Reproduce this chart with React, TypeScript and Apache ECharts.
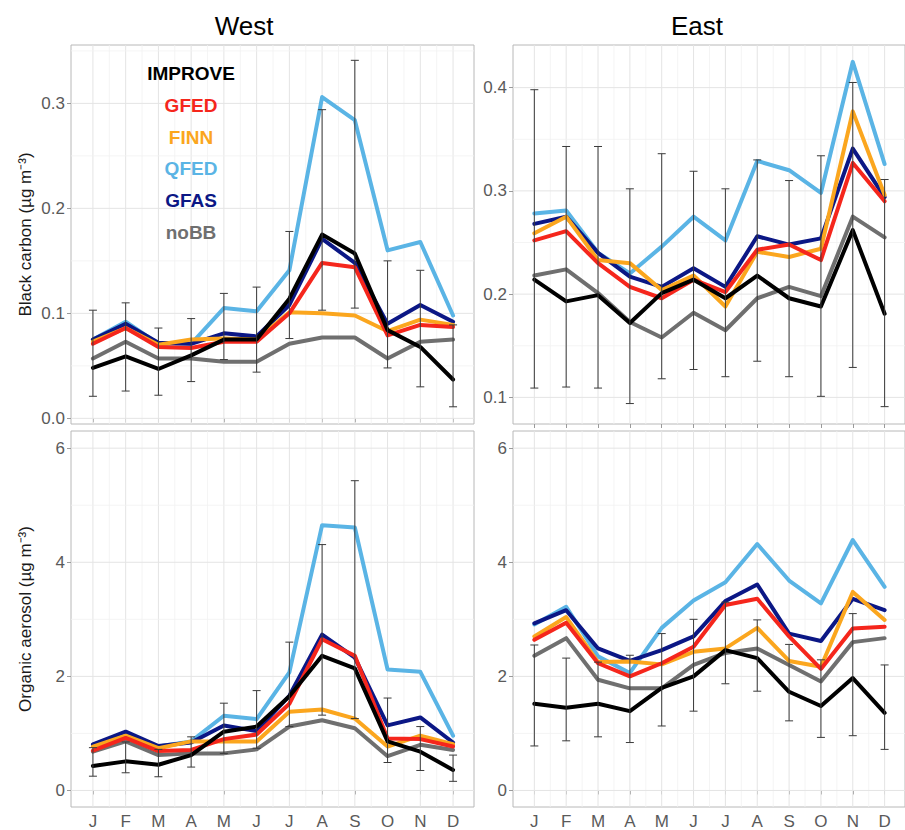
import React, { useEffect, useRef } from "react";
import * as echarts from "echarts";

// ---------- categories / labels ----------
const months = ["J", "F", "M", "A", "M", "J", "J", "A", "S", "O", "N", "D"];
const seriesNames = ["IMPROVE", "GFED", "FINN", "QFED", "GFAS", "noBB"];
const seriesColors = ["#000000", "#F5261C", "#FBA61E", "#5AB4E5", "#0B1785", "#6F6F6F"];
const panelTitles = ["West", "East"];
const bcTicks = [0.0, 0.1, 0.2, 0.3];
const bcEastTicks = [0.1, 0.2, 0.3, 0.4];
const oaTicks = [0, 2, 4, 6];

// ---------- Black carbon, West ----------
const bcWestImprove = [0.048, 0.059, 0.047, 0.060, 0.075, 0.075, 0.114, 0.175, 0.157, 0.084, 0.068, 0.037];
const bcWestLow = [0.021, 0.026, 0.022, 0.035, 0.056, 0.044, 0.076, 0.103, 0.105, 0.048, 0.030, 0.011];
const bcWestHigh = [0.103, 0.110, 0.086, 0.095, 0.119, 0.125, 0.178, 0.294, 0.341, 0.150, 0.141, 0.089];
const bcWestGFED = [0.071, 0.086, 0.068, 0.067, 0.073, 0.073, 0.100, 0.148, 0.144, 0.079, 0.089, 0.087];
const bcWestFINN = [0.073, 0.086, 0.070, 0.075, 0.076, 0.075, 0.101, 0.100, 0.098, 0.083, 0.094, 0.089];
const bcWestQFED = [0.075, 0.092, 0.071, 0.071, 0.105, 0.102, 0.141, 0.306, 0.284, 0.160, 0.168, 0.098];
const bcWestGFAS = [0.075, 0.090, 0.072, 0.071, 0.081, 0.078, 0.108, 0.171, 0.148, 0.090, 0.108, 0.092];
const bcWestNoBB = [0.057, 0.073, 0.057, 0.057, 0.054, 0.054, 0.071, 0.077, 0.077, 0.057, 0.073, 0.075];

// ---------- Black carbon, East ----------
const bcEastImprove = [0.214, 0.193, 0.199, 0.172, 0.201, 0.214, 0.196, 0.218, 0.196, 0.188, 0.262, 0.181];
const bcEastLow = [0.109, 0.110, 0.109, 0.094, 0.118, 0.127, 0.120, 0.135, 0.120, 0.101, 0.129, 0.091];
const bcEastHigh = [0.398, 0.343, 0.343, 0.302, 0.336, 0.319, 0.302, 0.330, 0.310, 0.334, 0.405, 0.311];
const bcEastGFED = [0.252, 0.261, 0.230, 0.207, 0.196, 0.214, 0.202, 0.243, 0.248, 0.233, 0.327, 0.290];
const bcEastFINN = [0.259, 0.275, 0.233, 0.230, 0.204, 0.218, 0.188, 0.241, 0.236, 0.244, 0.377, 0.296];
const bcEastQFED = [0.278, 0.281, 0.240, 0.220, 0.246, 0.275, 0.252, 0.329, 0.320, 0.298, 0.425, 0.326];
const bcEastGFAS = [0.268, 0.275, 0.240, 0.217, 0.207, 0.225, 0.207, 0.256, 0.248, 0.254, 0.341, 0.294];
const bcEastNoBB = [0.218, 0.224, 0.201, 0.173, 0.158, 0.182, 0.165, 0.196, 0.207, 0.198, 0.275, 0.255];

// ---------- Organic aerosol, West ----------
const oaWestImprove = [0.43, 0.51, 0.45, 0.62, 1.03, 1.12, 1.65, 2.36, 2.14, 0.86, 0.68, 0.36];
const oaWestLow = [0.25, 0.31, 0.24, 0.41, 0.65, 0.74, 1.12, 1.32, 1.26, 0.49, 0.35, 0.16];
const oaWestHigh = [0.75, 0.85, 0.72, 0.94, 1.53, 1.75, 2.60, 4.31, 5.43, 1.62, 1.12, 0.62];
const oaWestGFED = [0.70, 0.92, 0.69, 0.71, 0.90, 0.98, 1.52, 2.65, 2.36, 0.91, 0.90, 0.77];
const oaWestFINN = [0.77, 0.96, 0.74, 0.86, 0.86, 0.86, 1.38, 1.42, 1.26, 0.77, 0.96, 0.81];
const oaWestQFED = [0.80, 1.00, 0.77, 0.86, 1.31, 1.25, 2.07, 4.65, 4.61, 2.12, 2.08, 0.96];
const oaWestGFAS = [0.81, 1.03, 0.78, 0.84, 1.14, 1.04, 1.66, 2.73, 2.33, 1.14, 1.28, 0.84];
const oaWestNoBB = [0.68, 0.86, 0.62, 0.65, 0.65, 0.72, 1.12, 1.23, 1.09, 0.60, 0.80, 0.71];

// ---------- Organic aerosol, East ----------
const oaEastImprove = [1.52, 1.45, 1.52, 1.39, 1.80, 2.00, 2.46, 2.32, 1.73, 1.48, 1.97, 1.36];
const oaEastLow = [0.78, 0.87, 0.94, 0.84, 1.13, 1.39, 1.87, 1.74, 1.22, 0.93, 0.96, 0.72];
const oaEastHigh = [2.55, 2.32, 2.25, 2.37, 2.75, 3.00, 3.30, 2.99, 2.56, 2.29, 3.10, 2.20];
const oaEastGFED = [2.64, 2.94, 2.23, 2.00, 2.23, 2.52, 3.25, 3.36, 2.70, 2.13, 2.84, 2.87];
const oaEastFINN = [2.70, 3.04, 2.25, 2.26, 2.21, 2.43, 2.49, 2.85, 2.27, 2.17, 3.48, 2.99];
const oaEastQFED = [2.91, 3.22, 2.35, 2.06, 2.85, 3.33, 3.65, 4.32, 3.68, 3.28, 4.39, 3.57];
const oaEastGFAS = [2.93, 3.16, 2.49, 2.27, 2.46, 2.70, 3.32, 3.61, 2.75, 2.62, 3.36, 3.16];
const oaEastNoBB = [2.36, 2.67, 1.94, 1.79, 1.79, 2.20, 2.41, 2.49, 2.20, 1.91, 2.60, 2.67];

const FONT = "Liberation Sans, Arial, Helvetica, sans-serif";

type Panel = {
  left: number;
  top: number;
  yMin: number;
  yMax: number;
  yTicks: number[];
  yMinor: number[];
  decimals: number;
  bottomRow: boolean;
  yName: string;
  lines: number[][]; // IMPROVE, GFED, FINN, QFED, GFAS, noBB
  low: number[];
  high: number[];
};

const panels: Panel[] = [
  {
    left: 71, top: 45, yMin: -0.0054, yMax: 0.3556, yTicks: bcTicks, yMinor: [0.05, 0.15, 0.25, 0.35],
    decimals: 1, bottomRow: false, yName: "Black carbon (µg m⁻³)",
    lines: [bcWestImprove, bcWestGFED, bcWestFINN, bcWestQFED, bcWestGFAS, bcWestNoBB],
    low: bcWestLow, high: bcWestHigh,
  },
  {
    left: 513, top: 45, yMin: 0.0742, yMax: 0.4413, yTicks: bcEastTicks, yMinor: [0.15, 0.25, 0.35],
    decimals: 1, bottomRow: false, yName: "",
    lines: [bcEastImprove, bcEastGFED, bcEastFINN, bcEastQFED, bcEastGFAS, bcEastNoBB],
    low: bcEastLow, high: bcEastHigh,
  },
  {
    left: 71, top: 431, yMin: -0.29, yMax: 6.301, yTicks: oaTicks, yMinor: [1, 3, 5],
    decimals: 0, bottomRow: true, yName: "Organic aerosol (µg m⁻³)",
    lines: [oaWestImprove, oaWestGFED, oaWestFINN, oaWestQFED, oaWestGFAS, oaWestNoBB],
    low: oaWestLow, high: oaWestHigh,
  },
  {
    left: 513, top: 431, yMin: -0.29, yMax: 6.301, yTicks: oaTicks, yMinor: [1, 3, 5],
    decimals: 0, bottomRow: true, yName: "",
    lines: [oaEastImprove, oaEastGFED, oaEastFINN, oaEastQFED, oaEastGFAS, oaEastNoBB],
    low: oaEastLow, high: oaEastHigh,
  },
];

const PANEL_W = 403;
const PANEL_H = 379;
const X_MIN = 0.33;
const X_MAX = 12.64;
const monthPos = months.map((_, i) => i + 1);
const monthMinor = months.slice(1).map((_, i) => i + 1.5);
// drawing order: noBB, QFED, GFAS, FINN, GFED, IMPROVE
const drawOrder = [5, 3, 4, 2, 1, 0];

function buildOption() {
  const grid: any[] = [];
  const xAxis: any[] = [];
  const yAxis: any[] = [];
  const series: any[] = [];

  panels.forEach((p, pi) => {
    grid.push({
      left: p.left, top: p.top, width: PANEL_W, height: PANEL_H,
      show: true, borderColor: "#B8B8B8", borderWidth: 1, backgroundColor: "#FFFFFF",
    });
    xAxis.push({
      type: "value", gridIndex: pi, min: X_MIN, max: X_MAX,
      axisLine: { show: false },
      axisTick: { show: true, customValues: monthPos, length: 4, lineStyle: { color: "#9A9A9A" } },
      axisLabel: {
        show: p.bottomRow, customValues: monthPos, margin: 6,
        fontSize: 17, fontFamily: FONT, color: "#5A5A5A",
        formatter: (v: number) => months[Math.round(v) - 1] ?? "",
      },
      splitLine: { show: false },
    });
    yAxis.push({
      type: "value", gridIndex: pi, min: p.yMin, max: p.yMax,
      axisLine: { show: false },
      axisTick: { show: true, customValues: p.yTicks, length: 4, lineStyle: { color: "#9A9A9A" } },
      axisLabel: {
        customValues: p.yTicks, margin: 6, fontSize: 17, fontFamily: FONT, color: "#5A5A5A",
        formatter: (v: number) => v.toFixed(p.decimals),
      },
      splitLine: { show: false },
      name: p.yName,
      nameLocation: "middle",
      nameGap: 37,
      nameTextStyle: { fontSize: 17, fontFamily: FONT, color: "#1A1A1A" },
    });

    // grid lines (major + minor) via the axis scales
    const gridData: number[][] = [];
    monthPos.forEach((v) => gridData.push([v, 0, 0]));
    monthMinor.forEach((v) => gridData.push([v, 1, 0]));
    p.yTicks.forEach((v) => gridData.push([v, 0, 1]));
    p.yMinor.forEach((v) => gridData.push([v, 1, 1]));
    series.push({
      type: "custom", xAxisIndex: pi, yAxisIndex: pi, silent: true, z: 1,
      encode: { x: 0, y: 1 },
      data: gridData,
      renderItem: (params: any, api: any) => {
        const cs = params.coordSys;
        const v = api.value(0);
        const minor = api.value(1) === 1;
        const horiz = api.value(2) === 1;
        let shape;
        if (horiz) {
          const pt = api.coord([1, v]);
          shape = { x1: cs.x, y1: pt[1], x2: cs.x + cs.width, y2: pt[1] };
        } else {
          const pt = api.coord([v, p.yTicks[0]]);
          shape = { x1: pt[0], y1: cs.y, x2: pt[0], y2: cs.y + cs.height };
        }
        return {
          type: "line", shape,
          style: { stroke: minor ? "#F1F1F1" : "#E4E4E4", lineWidth: minor ? 0.8 : 1 },
        };
      },
    });

    drawOrder.forEach((si) => {
      series.push({
        type: "line", name: seriesNames[si], xAxisIndex: pi, yAxisIndex: pi,
        data: p.lines[si].map((v, i) => [i + 1, v]),
        symbol: "none", showSymbol: false, silent: true,
        color: seriesColors[si],
        lineStyle: { width: 4, color: seriesColors[si], cap: "round", join: "round" },
        z: 3,
      });
    });

    series.push({
      type: "custom", name: "IMPROVE range", xAxisIndex: pi, yAxisIndex: pi, silent: true, z: 10,
      encode: { x: 0, y: [1, 2] },
      data: p.low.map((lo, i) => [i + 1, lo, p.high[i]]),
      renderItem: (_params: any, api: any) => {
        const x = api.value(0);
        const a = api.coord([x, api.value(1)]);
        const b = api.coord([x, api.value(2)]);
        const hw = 4;
        const st = { stroke: "#3A3A3A", lineWidth: 1 };
        return {
          type: "group",
          children: [
            { type: "line", shape: { x1: a[0], y1: a[1], x2: b[0], y2: b[1] }, style: st },
            { type: "line", shape: { x1: a[0] - hw, y1: a[1], x2: a[0] + hw, y2: a[1] }, style: st },
            { type: "line", shape: { x1: b[0] - hw, y1: b[1], x2: b[0] + hw, y2: b[1] }, style: st },
          ],
        };
      },
    });
  });

  const legendY = [73, 105, 137, 168, 200, 232];
  const graphic: any[] = [
    {
      type: "text", x: 244, y: 26, z: 20,
      style: { text: panelTitles[0], font: `26px ${FONT}`, fill: "#000", align: "center", verticalAlign: "middle" },
    },
    {
      type: "text", x: 697, y: 26, z: 20,
      style: { text: panelTitles[1], font: `26px ${FONT}`, fill: "#000", align: "center", verticalAlign: "middle" },
    },
    ...seriesNames.map((n, i) => ({
      type: "text", x: 191, y: legendY[i], z: 20,
      style: {
        text: n, font: `bold 19px ${FONT}`, fill: seriesColors[i],
        align: "center", verticalAlign: "middle",
      },
    })),
  ];

  return {
    animation: false,
    backgroundColor: "#FFFFFF",
    grid, xAxis, yAxis, series, graphic,
  };
}

export default function App() {
  const ref = useRef<HTMLDivElement>(null);
  useEffect(() => {
    if (!ref.current) return;
    const chart = echarts.init(ref.current, undefined, { renderer: "svg" });
    chart.setOption(buildOption() as any);
    return () => chart.dispose();
  }, []);
  return (
    <div
      ref={ref}
      style={{ position: "absolute", left: 0, top: 0, width: 905, height: 830 }}
    />
  );
}
